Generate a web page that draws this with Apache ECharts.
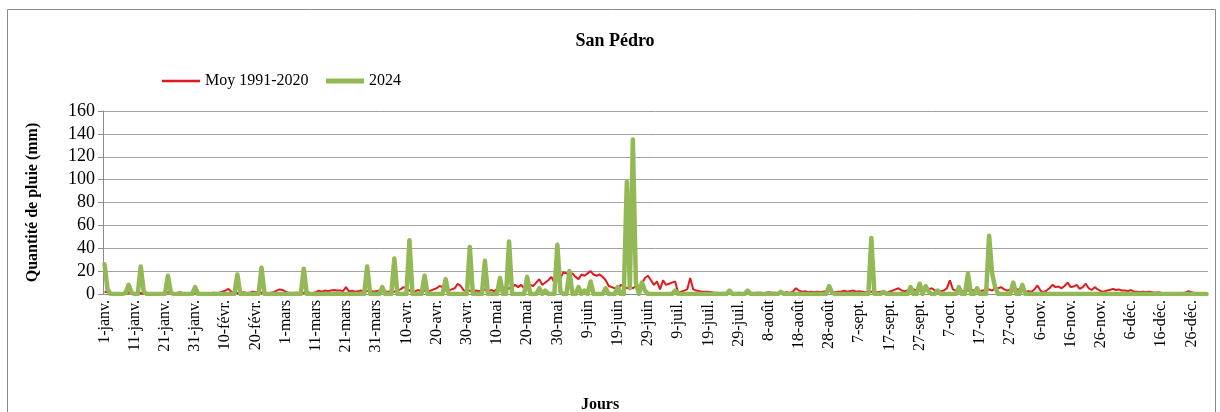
<!DOCTYPE html>
<html>
<head>
<meta charset="utf-8">
<script src="https://cdn.jsdelivr.net/npm/echarts@6/dist/echarts.min.js"></script>
<style>
  html, body { margin: 0; padding: 0; background: #fff; }
  #chart { width: 1220px; height: 412px; }
</style>
</head>
<body>
<div id="chart"></div>
<script>
// mois (2024, bissextile) pour les libellés de l'axe des jours
var monthNames = ['janv.', 'févr.', 'mars', 'avr.', 'mai', 'juin', 'juil.', 'août', 'sept.', 'oct.', 'nov.', 'déc.'];
var monthLengths = [31, 29, 31, 30, 31, 30, 31, 31, 30, 31, 30, 31];

// Moy 1991-2020 (mm/jour), un bloc par mois
var moy = [
    // janv.
    2, 1.5, 1, 0.5, 0.8, 0.5, 0.6, 1, 1.2, 0.8, 0.5, 0.7, 0.9, 0.6, 0.5, 0.8, 0.6, 0.4, 0.7, 0.5, 0.9, 1.5, 1, 0.6, 0.8, 1.5, 0.7, 0.5, 0.6, 0.8, 0.9,
    // févr.
    0.8, 0.6, 0.5, 0.9, 0.7, 1, 0.8, 1, 2, 3, 4.5, 2, 1, 0.8, 1.2, 1.5, 0.9, 1, 2, 1.5, 2, 1, 1.2, 0.8, 1, 1.5, 3, 4, 3.5,
    // mars
    2, 1, 0.8, 1, 1.2, 0.9, 1, 1.5, 1, 0.8, 1.5, 3, 2, 3, 2.5, 3, 3.5, 3, 3, 2.5, 6, 2, 3, 2, 2.5, 3, 2, 2.5, 3, 2, 2.5,
    // avr.
    3, 3, 2, 2, 2.5, 2, 3, 4, 6, 5, 3, 2, 2.5, 3.5, 2, 3, 2, 3, 4, 5, 7, 6, 3, 3, 4, 5, 9, 7, 3, 2.5,
    // mai
    3, 2, 3, 2.5, 3, 4, 2, 3.5, 2.5, 4, 3, 6, 4, 5, 6, 8, 6, 8, 5, 6, 8, 7, 10, 13, 8, 10, 12, 15, 10, 17, 14,
    // juin
    19, 18, 17, 18, 15, 13, 17, 16, 18, 20, 17, 16, 17, 15, 12, 7, 6, 5, 4, 8, 7, 5, 6, 5, 7, 6, 9, 14, 16, 12,
    // juil.
    8, 11, 4, 12, 8, 9, 10, 11, 1, 2, 3, 4, 14, 4, 3, 2.5, 2, 2, 2, 1.5, 1, 1, 0.8, 1, 0.7, 1, 0.8, 0.6, 1, 0.8, 0.7,
    // août
    0.8, 1, 0.7, 1, 1.2, 0.8, 1, 1.5, 1, 1.2, 0.8, 1, 1.2, 1.5, 1, 2, 5, 3, 2, 2.5, 1.5, 2, 1.5, 2, 1.5, 2, 2.5, 3, 2, 1.5, 2,
    // sept.
    2, 3, 2, 2.5, 3, 2, 2.5, 2, 1.5, 2, 2, 1.5, 1.5, 2, 1.5, 1, 2, 3, 4, 5, 3, 2.5, 3, 3, 4, 3, 3, 4, 3, 4,
    // oct.
    5, 3, 3, 2.5, 3, 5, 12, 4, 3, 3, 2.5, 3, 3, 3.5, 3, 3, 2.5, 3, 4, 4, 3, 5, 5, 6, 4, 3, 4, 3, 4, 4, 3,
    // nov.
    2, 2.5, 2, 4, 7.5, 3, 1.5, 3, 5, 8, 6, 6.5, 5, 7, 10, 6, 6.5, 8, 4.5, 6, 9, 5, 3.5, 6, 4, 2.5, 2, 3, 3.5, 4.5,
    // déc.
    3.5, 4, 3, 3, 2.5, 3.5, 2, 2, 1.5, 2, 1.5, 2, 1.5, 1, 1.5, 1, 0.8, 0.7, 0.8, 0.6, 0.7, 0.6, 0.8, 1, 2.5, 1.5, 0.8, 0.6, 0.5, 0.6, 0.5
];

// pluie 2024 (mm/jour)
var pluie2024 = [
    // janv.
    26, 4, 0, 0, 0, 0, 0, 1, 8, 1, 0, 0, 24, 2, 0, 0, 0, 0, 0, 0, 0, 16, 1, 0, 0, 0, 0, 0, 0, 0, 6,
    // févr.
    0, 0, 0, 0, 0, 0, 0, 0, 0, 0, 0, 0, 0, 17, 0, 0, 0, 0, 0, 0, 0, 23, 0, 0, 0, 0, 0, 0, 0,
    // mars
    0, 0, 0, 0, 0, 0, 22, 0, 0, 0, 0, 0, 0, 0, 0, 0, 0, 0, 0, 0, 0, 0, 0, 0, 0, 0, 0, 24, 0, 0, 0,
    // avr.
    0, 6, 0, 0, 0, 31, 0, 0, 0, 0, 47, 0, 0, 0, 0, 16, 0, 0, 0, 0, 0, 0, 13, 0, 0, 0, 0, 0, 0, 0,
    // mai
    41, 0, 0, 0, 0, 29, 0, 0, 0, 0, 14, 0, 0, 46, 0, 0, 0, 0, 0, 15, 0, 0, 0, 5, 0, 3, 0, 0, 0, 43, 2,
    // juin
    0, 0, 20, 0, 0, 6, 0, 3, 0, 11, 0, 0, 0, 0, 5, 0, 0, 0, 6, 0, 0, 98, 5, 135, 10, 0, 10, 3, 0, 0,
    // juil.
    0, 0, 0, 0, 0, 0, 0, 3, 0, 0, 0, 0, 0, 0, 0, 0, 0, 0, 0, 0, 0, 0, 0, 0, 0, 3, 0, 0, 0, 0, 0,
    // août
    3, 0, 0, 0, 0, 0, 0, 0, 0, 0, 0, 2, 0, 0, 0, 0, 0, 0, 0, 0, 0, 0, 0, 0, 0, 0, 0, 7, 1, 0, 0,
    // sept.
    0, 0, 0, 0, 0, 0, 0, 0, 0, 0, 49, 0, 0, 0, 2, 0, 0, 0, 0, 0, 0, 0, 0, 6, 0, 0, 9, 0, 7, 2,
    // oct.
    0, 0, 3, 0, 0, 0, 0, 0, 0, 6, 0, 0, 18, 0, 0, 5, 0, 0, 0, 51, 18, 6, 0, 0, 0, 0, 0, 10, 0, 0, 8,
    // nov.
    0, 0, 0, 0, 0, 0, 0, 0, 0, 0, 0, 0, 0, 0, 0, 0, 0, 0, 0, 0, 0, 0, 0, 0, 0, 0, 0, 0, 0, 0,
    // déc.
    0, 0, 0, 0, 0, 0, 0, 0, 0, 0, 0, 0, 0, 0, 0, 0, 0, 0, 0, 0, 0, 0, 0, 0, 0, 0, 0, 0, 0, 0, 0
];

var yTicks = [0, 20, 40, 60, 80, 100, 120, 140, 160];

// libellés "1-janv." ... "31-déc."
var jours = [];
for (var m = 0; m < 12; m++) {
    for (var d = 1; d <= monthLengths[m]; d++) {
        jours.push(d + '-' + monthNames[m]);
    }
}

var serif = '"Liberation Serif", "Times New Roman", serif';
var red = '#e2191f', green = '#92b955';
var myChart = echarts.init(document.getElementById('chart'));

var legendText = { fontFamily: serif, fontSize: 16, color: '#000' };

var option = {
    animation: false,
    backgroundColor: '#fff',
    textStyle: { fontFamily: serif, color: '#000' },
    title: [{
        text: 'San Pédro',
        left: 610,
        textAlign: 'center',
        top: 27,
        textStyle: { fontFamily: serif, fontSize: 18, fontWeight: 'bold', color: '#000' }
    }, {
        text: 'Jours',
        left: 595,
        textAlign: 'center',
        top: 392,
        textStyle: { fontFamily: serif, fontSize: 16, fontWeight: 'bold', color: '#000' }
    }],
    // deux légendes pour garder l'épaisseur propre à chaque trait
    legend: [{
        left: 157,
        top: 68,
        itemWidth: 38,
        itemHeight: 2.5,
        icon: 'rect',
        textStyle: legendText,
        data: ['Moy 1991-2020']
    }, {
        left: 321,
        top: 68,
        itemWidth: 38,
        itemHeight: 5,
        icon: 'rect',
        textStyle: legendText,
        data: ['2024']
    }],
    grid: { left: 103, right: 12, top: 111, bottom: 118 },
    xAxis: {
        type: 'category',
        data: jours,
        boundaryGap: true,
        axisLine: { lineStyle: { color: '#8c8c8c' } },
        axisTick: { interval: 9, length: 5, lineStyle: { color: '#8c8c8c' } },
        axisLabel: {
            interval: 9,
            rotate: 90,
            margin: 6,
            fontFamily: serif,
            fontSize: 16,
            color: '#000'
        },
        splitLine: { show: false }
    },
    yAxis: {
        type: 'value',
        min: yTicks[0],
        max: yTicks[yTicks.length - 1],
        interval: 20,
        name: 'Quantité de pluie (mm)',
        nameLocation: 'middle',
        nameRotate: 90,
        nameGap: 62,
        nameTextStyle: { fontFamily: serif, fontSize: 16, fontWeight: 'bold', color: '#000' },
        axisLine: { show: true, lineStyle: { color: '#8c8c8c' } },
        axisTick: { show: true, length: 5, lineStyle: { color: '#8c8c8c' } },
        axisLabel: { fontFamily: serif, fontSize: 18, color: '#000', margin: 8 },
        splitLine: { lineStyle: { color: '#a3a3a3', width: 1 } }
    },
    series: [{
        name: 'Moy 1991-2020',
        type: 'line',
        data: moy,
        symbol: 'none',
        color: red,
        lineStyle: { width: 2, color: red }
    }, {
        name: '2024',
        type: 'line',
        data: pluie2024,
        symbol: 'none',
        color: green,
        lineStyle: { width: 4.5, color: green, join: 'round', cap: 'round' }
    }],
    graphic: [{
        type: 'rect',
        shape: { x: 7.5, y: 9.5, width: 1208, height: 420 },
        style: { fill: 'none', stroke: '#8a8a8a', lineWidth: 1 },
        silent: true,
        z: -1
    }]
};

myChart.setOption(option);
window.addEventListener('resize', function () {
    myChart.resize();
});
</script>
</body>
</html>
